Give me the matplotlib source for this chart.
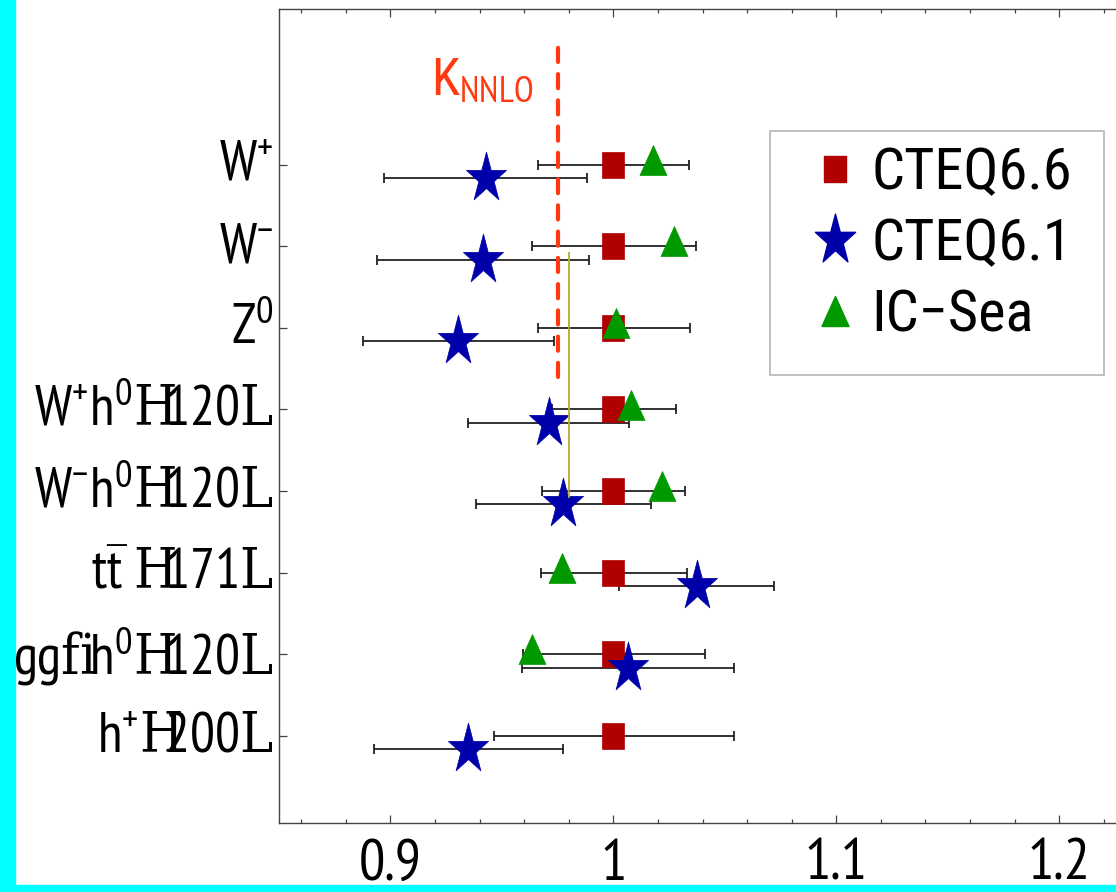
import numpy as np
import matplotlib
matplotlib.use('Agg')
import matplotlib.pyplot as plt
from matplotlib import font_manager
from matplotlib.path import Path
from matplotlib.markers import MarkerStyle
from matplotlib.lines import Line2D
from matplotlib.patches import Rectangle
from matplotlib.ticker import MultipleLocator, FixedLocator
from matplotlib.transforms import ScaledTranslation

# ---------------- data ----------------
processes = [r"W$^{+}\,\,$", r"W$^{-}\,\,$", r"Z$^{0}\,$",
             r"W$^{+}$h$^{0}$$\mathtt{H}\!\!$120$\mathtt{L}$",
             r"W$^{-}$h$^{0}$$\mathtt{H}\!\!$120$\mathtt{L}$",
             r"t$\bar{\mathrm{t}}$ $\mathtt{H}\!\!$171$\mathtt{L}$",
             r"gg$\mathtt{fi}\!$h$^{0}$$\mathtt{H}\!\!$120$\mathtt{L}$",
             r"h$^{+}$$\mathtt{H}\!\!\!$200$\mathtt{L}$"]
cteq66 = [1.0, 1.0, 1.0, 1.0, 1.0, 1.0, 1.0, 1.0]
cteq66_lo = [0.966, 0.9637, 0.966, 0.9726, 0.968, 0.9677, 0.9596, 0.9466]
cteq66_hi = [1.034, 1.037, 1.0345, 1.028, 1.032, 1.033, 1.041, 1.054]
cteq61 = [0.943, 0.9417, 0.9305, 0.971, 0.9776, 1.0375, 1.0067, 0.935]
cteq61_lo = [0.897, 0.894, 0.8875, 0.935, 0.9386, 1.0027, 0.959, 0.8928]
cteq61_hi = [0.988, 0.989, 0.9735, 1.007, 1.017, 1.072, 1.054, 0.9776]
icsea = [1.018, 1.027, 1.0013, 1.008, 1.022, 0.977, 0.9637, np.nan]
k_nnlo = 0.9753
k_nnlo_span = [5.40, 9.45]
ref_line_x = 0.9803
ref_line_span = [3.93, 6.92]
series_names = ["CTEQ6.6", "CTEQ6.1", "IC\u2212Sea"]
xticks = [0.9, 1.0, 1.1, 1.2]
xticklabels = ["0.9", "1", "1.1", "1.2"]

# ---------------- fonts ----------------
fl = font_manager.fontManager.ttflist
names = {f.name for f in fl}


def first(cands, default):
    for c in cands:
        if c in names:
            return c
    return default


WIDE = first(['Nimbus Sans Narrow', 'Liberation Sans Narrow', 'Arial Narrow',
              'Roboto Condensed', 'PT Sans Narrow', 'Archivo Narrow'], 'Liberation Sans')
NARROW = first(['Nimbus Sans Narrow', 'Liberation Sans Narrow', 'Arial Narrow',
                'PT Sans Narrow', 'Roboto Condensed'], 'Liberation Sans')
SERIF = 'Liberation Serif'
for f in fl:
    if ('Serif' in f.name and str(f.stretch) in ('condensed', 'semi-condensed')
            and f.style == 'normal' and str(f.weight) in ('400', 'normal')):
        SERIF = f"{f.name}:stretch={f.stretch}"
        break

plt.rcParams['font.family'] = [NARROW, 'DejaVu Sans']
plt.rcParams['mathtext.fontset'] = 'custom'
plt.rcParams['mathtext.rm'] = NARROW
plt.rcParams['mathtext.it'] = NARROW
plt.rcParams['mathtext.sf'] = NARROW
plt.rcParams['mathtext.bf'] = NARROW
plt.rcParams['mathtext.tt'] = SERIF
plt.rcParams['mathtext.default'] = 'rm'


def squeezed(m, f):
    ms = MarkerStyle(m)
    p = ms.get_path()
    v = ms.get_transform().transform(p.vertices).copy()
    v[:, 0] *= f
    return Path(v, p.codes)


SQ = squeezed('s', 0.78)
STAR = squeezed('*', 0.80)
TRI = squeezed('^', 0.90)

RED = '#B00000'
BLUE = '#0000AA'
GREEN = '#009900'
ORANGE = '#FF3A10'

W, H = 1116, 892
fig = plt.figure(figsize=(W / 100, H / 100), dpi=100)
fig.patch.set_facecolor('white')
fig.patches.append(Rectangle((0, 0), 15 / W, 1, transform=fig.transFigure,
                             color='#00FFFF', zorder=-1))
fig.patches.append(Rectangle((0, 0), 1, 7 / H, transform=fig.transFigure,
                             color='#00FFFF', zorder=-1))

ax = fig.add_axes([279 / W, 1 - 823 / H, 847 / W, (823 - 9) / H])
ax.set_xlim(0.85, 1.23)
ax.set_ylim(-0.07, 9.91)

ypos = np.arange(len(processes), 0, -1).astype(float)
c66 = np.array(cteq66)
c61 = np.array(cteq61)

ecol = '#222222'
ax.errorbar(c66, ypos, xerr=[c66 - np.array(cteq66_lo), np.array(cteq66_hi) - c66],
            fmt='none', ecolor=ecol, elinewidth=1.3, capsize=3.8, capthick=1.3, zorder=2)
ax.plot(c66, ypos, ls='none', marker=SQ, ms=19.4, color=RED, mec=RED, mew=0.5, zorder=3)
ax.errorbar(c61, ypos - 0.165, xerr=[c61 - np.array(cteq61_lo), np.array(cteq61_hi) - c61],
            fmt='none', ecolor=ecol, elinewidth=1.3, capsize=3.8, capthick=1.3, zorder=2)
ax.plot(c61, ypos - 0.165, ls='none', marker=STAR, ms=38, color=BLUE, mec=BLUE, mew=0.5, zorder=4)
ax.plot(icsea, ypos + 0.06, ls='none', marker=TRI, ms=21.6, color=GREEN, mec=GREEN, mew=0.5, zorder=5)

ax.plot([k_nnlo, k_nnlo], k_nnlo_span, color=ORANGE, lw=3, dashes=(3.4, 2.9),
        dash_capstyle='round', zorder=6)
ax.plot([ref_line_x, ref_line_x], ref_line_span, color='#B5AE30', lw=1.3, zorder=6)
ax.text(0.918, 8.86, r'K$_{\mathrm{NNLO}}$', color=ORANGE, fontsize=37,
        fontfamily=WIDE, ha='left', va='baseline')

ax.set_yticks(ypos)
ax.set_yticklabels(processes)
ax.xaxis.set_major_locator(FixedLocator(xticks))
ax.set_xticklabels(xticklabels)
ax.xaxis.set_minor_locator(MultipleLocator(0.02))
ax.tick_params(axis='both', which='major', direction='in', top=True, right=True,
               length=5.8, width=0.9, color='#444444', labelsize=42)
ax.tick_params(axis='y', which='major', labelsize=40, pad=4)
ax.tick_params(axis='x', which='major', pad=11.5)
ax.tick_params(axis='x', which='minor', direction='in', top=True, length=3,
               width=0.9, color='#444444')
ax.tick_params(axis='y', which='minor', left=False, right=False)
for s in ax.spines.values():
    s.set_color('#444444')
    s.set_linewidth(1.0)
shift = ScaledTranslation(0, 3 / 72, fig.dpi_scale_trans)
for lab in ax.get_yticklabels():
    lab.set_transform(lab.get_transform() + shift)

# legend
fig.add_artist(Rectangle((770 / W, 1 - 375 / H), (1104 - 770) / W, (375 - 131) / H,
                         transform=fig.transFigure, facecolor='white',
                         edgecolor='#B4B4B4', lw=1.2, zorder=1))
handles = [Line2D([], [], ls='none', marker=SQ, ms=19.4, color=RED),
           Line2D([], [], ls='none', marker=STAR, ms=38, color=BLUE),
           Line2D([], [], ls='none', marker=TRI, ms=21.6, color=GREEN)]
leg = fig.legend(handles, series_names, loc='upper left',
                 bbox_to_anchor=(806 / W, 1 - 146 / H), bbox_transform=fig.transFigure,
                 frameon=False, handlelength=1.0, handletextpad=0.12,
                 labelspacing=0.28, borderpad=0, borderaxespad=0,
                 prop={'family': WIDE, 'size': 42})
leg.set_zorder(10)

fig.savefig('out.png', dpi=100)
